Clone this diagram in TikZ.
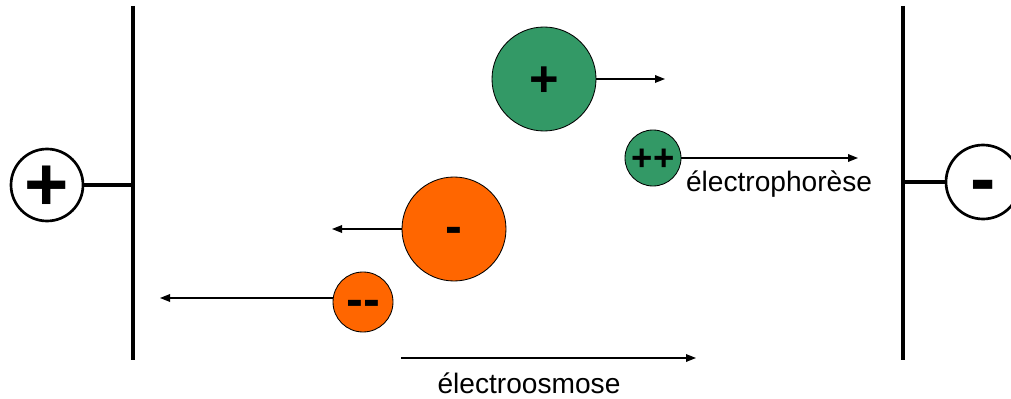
\documentclass[tikz,border=0pt]{standalone}
\usepackage{fontspec}
\setmainfont{Liberation Sans}
\usepackage{xcolor}
\usetikzlibrary{arrows.meta, positioning}
\definecolor{pgreen}{HTML}{339966}
\definecolor{porange}{HTML}{FF6600}

\tikzset{
  electrode/.style={black, line width=2.5pt},
  terminal/.style={circle, draw=black, line width=1.9pt, fill=white, inner sep=0pt, minimum size=1.8cm},
  particle/.style={circle, draw=black, line width=0.6pt, inner sep=0pt},
  drift/.style={-{Triangle[length=0.25cm, width=0.19cm]}, line width=1pt},
  sign/.style={font=\fontsize{#1}{#1}\selectfont\bfseries},
  caption/.style={font=\fontsize{20}{24}\selectfont}
}

\begin{document}
\begin{tikzpicture}[x=1cm, y=1cm]
\useasboundingbox (0,0) rectangle (25.275,9.95);
% electrodes
\draw[electrode] (3.325,9.80) -- (3.325,0.95);
\draw[electrode] (22.575,9.80) -- (22.575,0.95);
\coordinate (anodeplate) at (3.325,5.325);
\coordinate (cathodeplate) at (22.575,5.40);
% terminals
\node[terminal] (anode) at (1.175,5.325) {};
\node[sign=54, yshift=-0.08cm] at (anode) {+};
\node[terminal, minimum size=1.85cm] (cathode) at (24.575,5.40) {};
\node[sign=54, yshift=-0.25cm] at (cathode) {-};
\draw[line width=2.2pt] (anode) -- (anodeplate);
\draw[line width=2.2pt] (cathode) -- (cathodeplate);
% cations
\node[particle, fill=pgreen, minimum size=2.6cm] (catbig) at (13.6,7.975) {};
\node[sign=36, yshift=-0.07cm] at (catbig) {+};
\node[particle, fill=pgreen, minimum size=1.4cm] (catsmall) at (16.325,6.0) {};
\node[sign=26, yshift=-0.04cm] at (catsmall) {++};
\coordinate (catbigend) at (16.625,7.975);
\coordinate (catsmallend) at (21.45,6.0);
\draw[drift] (catbig) -- (catbigend);
\draw[drift] (catsmall) -- (catsmallend);
\node[caption] (phor) at (19.475,5.34) {électrophorèse};
% anions
\node[particle, fill=porange, minimum size=2.6cm] (anbig) at (11.35,4.225) {};
\node[sign=36, yshift=-0.15cm] at (anbig) {-};
\node[particle, fill=porange, minimum size=1.5cm] (ansmall) at (9.075,2.4) {};
\node[sign=36, yshift=-0.15cm] at (ansmall) {-{}-};
\coordinate (anbigend) at (8.3,4.225);
\coordinate (ansmallend) at (4.0,2.5);
\draw[drift] (anbig) -- (anbigend);
\draw[drift] (ansmall.west |- ansmallend) -- (ansmallend);
% flow
\coordinate (eofstart) at (10.025,1.0);
\coordinate (eofend) at (17.4,1.0);
\draw[drift] (eofstart) -- (eofend);
\node[caption] (osm) at (13.225,0.37) {électroosmose};
\end{tikzpicture}
\end{document}
